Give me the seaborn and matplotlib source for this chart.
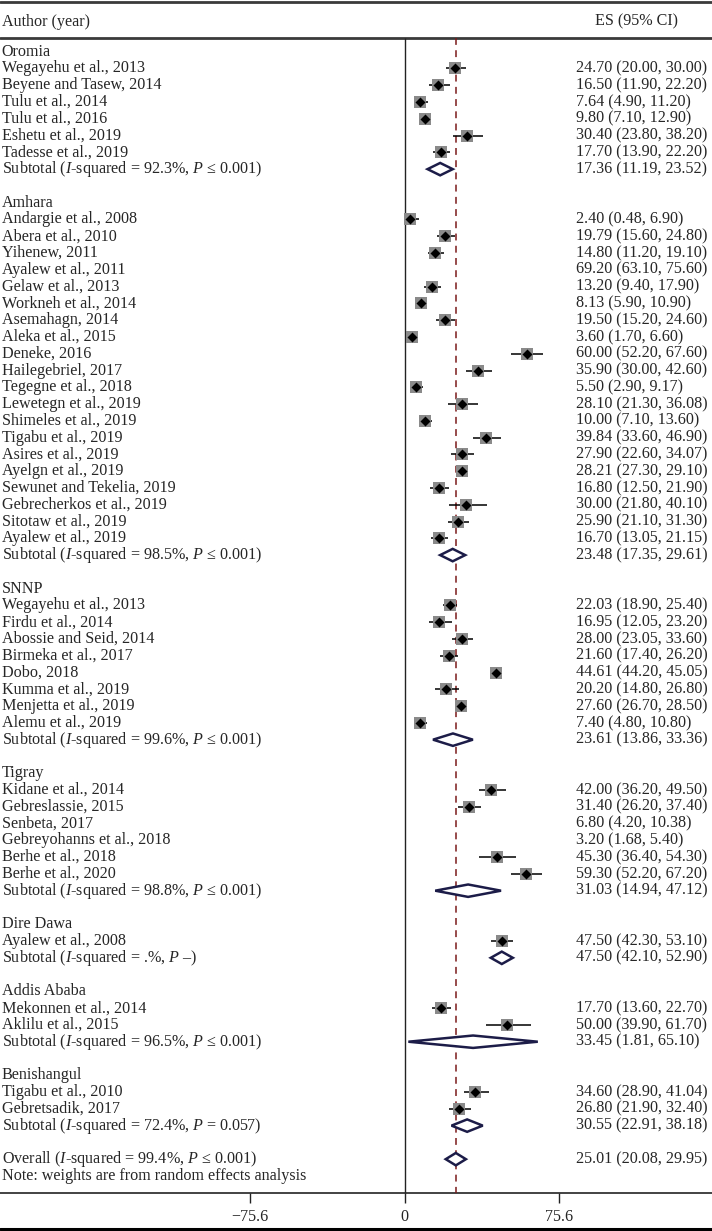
import numpy as np
import pandas as pd
import matplotlib.pyplot as plt
import seaborn as sns
from matplotlib.patches import Polygon

# Datos
regions = ["Oromia", "Amhara", "SNNP", "Tigray", "Dire Dawa", "Addis Ababa", "Benishangul"]

study = [
    "Wegayehu et al., 2013", "Beyene and Tasew, 2014", "Tulu et al., 2014", "Tulu et al., 2016",
    "Eshetu et al., 2019", "Tadesse et al., 2019",
    "Andargie et al., 2008", "Abera et al., 2010", "Yihenew, 2011", "Ayalew et al., 2011",
    "Gelaw et al., 2013", "Workneh et al., 2014", "Asemahagn, 2014", "Aleka et al., 2015",
    "Deneke, 2016", "Hailegebriel, 2017", "Tegegne et al., 2018", "Lewetegn et al., 2019",
    "Shimeles et al., 2019", "Tigabu et al., 2019", "Asires et al., 2019", "Ayelgn et al., 2019",
    "Sewunet and Tekelia, 2019", "Gebrecherkos et al., 2019", "Sitotaw et al., 2019", "Ayalew et al., 2019",
    "Wegayehu et al., 2013", "Firdu et al., 2014", "Abossie and Seid, 2014", "Birmeka et al., 2017",
    "Dobo, 2018", "Kumma et al., 2019", "Menjetta et al., 2019", "Alemu et al., 2019",
    "Kidane et al., 2014", "Gebreslassie, 2015", "Senbeta, 2017", "Gebreyohanns et al., 2018",
    "Berhe et al., 2018", "Berhe et al., 2020",
    "Ayalew et al., 2008",
    "Mekonnen et al., 2014", "Aklilu et al., 2015",
    "Tigabu et al., 2010", "Gebretsadik, 2017",
]
region = (["Oromia"] * 6 + ["Amhara"] * 20 + ["SNNP"] * 8 + ["Tigray"] * 6
          + ["Dire Dawa"] * 1 + ["Addis Ababa"] * 2 + ["Benishangul"] * 2)
es = [24.70, 16.50, 7.64, 9.80, 30.40, 17.70,
      2.40, 19.79, 14.80, 69.20, 13.20, 8.13, 19.50, 3.60, 60.00, 35.90, 5.50, 28.10,
      10.00, 39.84, 27.90, 28.21, 16.80, 30.00, 25.90, 16.70,
      22.03, 16.95, 28.00, 21.60, 44.61, 20.20, 27.60, 7.40,
      42.00, 31.40, 6.80, 3.20, 45.30, 59.30,
      47.50,
      17.70, 50.00,
      34.60, 26.80]
lo = [20.00, 11.90, 4.90, 7.10, 23.80, 13.90,
      0.48, 15.60, 11.20, 63.10, 9.40, 5.90, 15.20, 1.70, 52.20, 30.00, 2.90, 21.30,
      7.10, 33.60, 22.60, 27.30, 12.50, 21.80, 21.10, 13.05,
      18.90, 12.05, 23.05, 17.40, 44.20, 14.80, 26.70, 4.80,
      36.20, 26.20, 4.20, 1.68, 36.40, 52.20,
      42.30,
      13.60, 39.90,
      28.90, 21.90]
hi = [30.00, 22.20, 11.20, 12.90, 38.20, 22.20,
      6.90, 24.80, 19.10, 75.60, 17.90, 10.90, 24.60, 6.60, 67.60, 42.60, 9.17, 36.08,
      13.60, 46.90, 34.07, 29.10, 21.90, 40.10, 31.30, 21.15,
      25.40, 23.20, 33.60, 26.20, 45.05, 26.80, 28.50, 10.80,
      49.50, 37.40, 10.38, 5.40, 54.30, 67.20,
      53.10,
      22.70, 61.70,
      41.04, 32.40]
# filas sin marcador en la figura original
hidden = ["Ayalew et al., 2011", "Senbeta, 2017", "Gebreyohanns et al., 2018"]

sub_i2 = ["92.3%", "98.5%", "99.6%", "98.8%", ".%", "96.5%", "72.4%"]
sub_p = ["≤ 0.001", "≤ 0.001", "≤ 0.001", "≤ 0.001", "–", "≤ 0.001", "= 0.057"]
sub_es = [17.36, 23.48, 23.61, 31.03, 47.50, 33.45, 30.55]
sub_lo = [11.19, 17.35, 13.86, 14.94, 42.10, 1.81, 22.91]
sub_hi = [23.52, 29.61, 33.36, 47.12, 52.90, 65.10, 38.18]

overall_i2, overall_p = "99.4%", "≤ 0.001"
overall_es, overall_lo, overall_hi = 25.01, 20.08, 29.95

ticks = [-75.6, 0, 75.6]
tick_labels = ["\u221275.6", "0", "75.6"]

# Construir tabla de filas
rows = []
r = 0
for i, reg in enumerate(regions):
    rows.append(dict(row=r, label=reg, kind="header"))
    r += 1
    for s, g, e, l, h in zip(study, region, es, lo, hi):
        if g == reg:
            rows.append(dict(row=r, label=s, kind="study", es=e, lo=l, hi=h))
            r += 1
    lab = r"Subtotal ($I$-squared = " + sub_i2[i] + r", $P$ " + sub_p[i] + ")"
    rows.append(dict(row=r, label=lab, kind="sub", es=sub_es[i], lo=sub_lo[i], hi=sub_hi[i]))
    r += 2
lab = r"Overall ($I$-squared = " + overall_i2 + r", $P$ " + overall_p + ")"
rows.append(dict(row=r, label=lab, kind="sub", es=overall_es, lo=overall_lo, hi=overall_hi))
rows.append(dict(row=r + 1, label="Note: weights are from random effects analysis", kind="note"))
df = pd.DataFrame(rows)
axis_row = r + 2.03

# Estilo
sns.set_theme(style="white")
plt.rcParams["font.family"] = ["Liberation Serif", "DejaVu Serif"]
plt.rcParams["mathtext.fontset"] = "custom"
plt.rcParams["mathtext.rm"] = "Liberation Serif"
plt.rcParams["mathtext.it"] = "Liberation Serif:italic"

fig = plt.figure(figsize=(7.12, 12.31), dpi=100)
ax = fig.add_axes([0, 0, 1, 1])
ax.set_xlim(-197.9, 150.3)
ax.set_ylim(70.28, -3.08)
ax.axis("off")

fs = 11.6
line_col = "#3a3a3a"
x_left = -197.0
x_right = 83.6

# Lineas de la tabla
ax.axhline(-2.98, color=line_col, lw=2)
ax.axhline(-0.83, color=line_col, lw=2)
ax.axhline(axis_row, color="#222222", lw=1.2)
ax.axhline(70.16, color="black", lw=2.2)
ax.vlines(0, -0.83, axis_row, color="#222222", lw=1.0)
ax.vlines(overall_es, -0.83, axis_row, color="#7a1a1a", lw=1.1, linestyles=(0, (4.5, 3.5)))

# Ejes
ax.vlines(ticks, axis_row, axis_row + 0.6, color="#222222", lw=1.0)
for t, tl in zip(ticks, tick_labels):
    ax.text(t, 69.45, tl, ha="center", va="center", fontsize=fs)

ax.text(x_left, -1.79, "Author (year)", ha="left", va="center", fontsize=fs)
ax.text(93.0, -1.79, "ES (95% CI)", ha="left", va="center", fontsize=fs)

# Textos de filas
for _, d in df.iterrows():
    ax.text(x_left, d["row"], d["label"], ha="left", va="center", fontsize=fs)
    if d["kind"] in ("study", "sub"):
        ax.text(x_right, d["row"], f"{d['es']:.2f} ({d['lo']:.2f}, {d['hi']:.2f})",
                ha="left", va="center", fontsize=fs)

# Estudios
st = df[(df["kind"] == "study") & (~df["label"].isin(hidden))]
ax.hlines(st["row"], st["lo"], st["hi"], color="black", lw=1.1, zorder=2)
sns.scatterplot(data=st, x="es", y="row", marker="s", s=70, color="#8a8a8a",
                linewidth=0, zorder=3, ax=ax, legend=False)
sns.scatterplot(data=st, x="es", y="row", marker="D", s=26, color="black",
                linewidth=0, zorder=4, ax=ax, legend=False)

# Diamantes de subtotales
h = 0.37
for _, d in df[df["kind"] == "sub"].iterrows():
    y = d["row"]
    poly = Polygon([(d["lo"], y), (d["es"], y - h), (d["hi"], y), (d["es"], y + h)],
                   closed=True, facecolor="white", edgecolor="#1c1c48", lw=1.8, zorder=5)
    ax.add_patch(poly)

ax.set_xlim(-197.9, 150.3)
ax.set_ylim(70.28, -3.08)
fig.savefig("out.png", dpi=100)
